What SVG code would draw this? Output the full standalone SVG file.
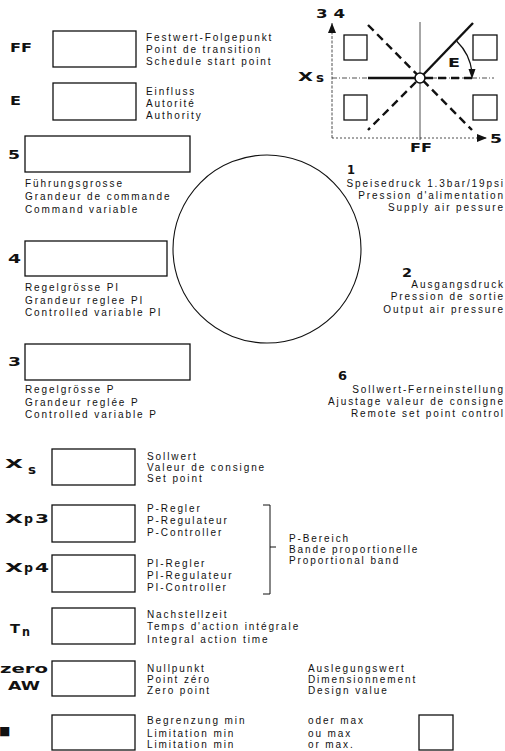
<svg xmlns="http://www.w3.org/2000/svg" width="505" height="751" viewBox="0 0 505 751">
<style>
.t{font-family:"Liberation Sans",Arial,sans-serif;font-size:10px;letter-spacing:1.9px;fill:#111}
.r{text-anchor:end}
.b{font-family:"DejaVu Sans","Liberation Sans",sans-serif;font-weight:bold;font-size:13px;fill:#111}
.box{fill:#fff;stroke:#111;stroke-width:1.3}
.thin{fill:none;stroke:#222;stroke-width:0.8}
.thick{fill:none;stroke:#111;stroke-width:2.4}
.dash{stroke-dasharray:8 5}
</style>
<defs>
<marker id="ah" viewBox="0 0 10 8" refX="10" refY="4" markerWidth="10" markerHeight="8" markerUnits="userSpaceOnUse" orient="auto"><path d="M0,0L10,4L0,8z" fill="#111"/></marker>
</defs>
<rect width="505" height="751" fill="#fff"/>

<g id="graph">
<line class="thin" x1="332" y1="138" x2="332" y2="23" stroke-dasharray="3 1.5" marker-end="url(#ah)"/>
<line class="thin" x1="332" y1="138" x2="487" y2="138" stroke-dasharray="2 2" marker-end="url(#ah)"/>
<line class="thin" x1="420" y1="22" x2="420" y2="140"/>
<line class="thin" x1="332" y1="78" x2="494" y2="78" stroke-dasharray="5 2 1 2"/>
<rect class="box" x="344" y="35" width="23" height="25"/>
<rect class="box" x="473" y="35" width="24" height="25"/>
<rect class="box" x="344" y="95" width="23" height="25"/>
<rect class="box" x="473" y="95" width="24" height="25"/>
<line class="thick" x1="368" y1="78" x2="415" y2="78"/>
<line class="thick dash" x1="425" y1="78" x2="472" y2="78"/>
<line class="thick dash" x1="368" y1="25" x2="472" y2="130"/>
<line class="thick dash" x1="416" y1="82" x2="368" y2="130"/>
<line class="thick" x1="423.5" y1="74.5" x2="473" y2="23"/>
<path d="M456.8,41.2A52,52 0 0 1 472,72" fill="none" stroke="#111" stroke-width="1.3"/>
<path d="M468.5,69L475.5,69L472,79z" fill="#111"/>
<circle cx="420" cy="78" r="5" fill="#fff" stroke="#111" stroke-width="1.6"/>
<text class="b" x="316" y="18" font-size="12" textLength="29" lengthAdjust="spacingAndGlyphs">3 4</text>
<text class="b" x="298" y="81" font-size="13" textLength="15" lengthAdjust="spacingAndGlyphs">X</text>
<text class="b" x="316" y="82" font-size="11" textLength="8" lengthAdjust="spacingAndGlyphs">s</text>
<text class="b" x="448" y="67" font-size="12" textLength="12" lengthAdjust="spacingAndGlyphs">E</text>
<text class="b" x="490" y="143" font-size="12" textLength="12" lengthAdjust="spacingAndGlyphs">5</text>
<text class="b" x="410" y="152" font-size="11" textLength="22" lengthAdjust="spacingAndGlyphs">FF</text>
</g>

<g id="circle"><circle cx="267" cy="249" r="94" fill="none" stroke="#111" stroke-width="1.1"/></g>

<g id="ff">
<text class="b" x="10" y="52" font-size="12" textLength="22" lengthAdjust="spacingAndGlyphs">FF</text>
<rect class="box" x="53" y="31" width="83" height="36"/>
<text class="t" x="146" y="41">Festwert-Folgepunkt</text>
<text class="t" x="146" y="53">Point de transition</text>
<text class="t" x="146" y="65">Schedule start point</text>
</g>
<g id="e">
<text class="b" x="10" y="105" font-size="12" textLength="11" lengthAdjust="spacingAndGlyphs">E</text>
<rect class="box" x="53" y="83" width="83" height="37"/>
<text class="t" x="146" y="95">Einfluss</text>
<text class="t" x="146" y="107">Autorité</text>
<text class="t" x="146" y="119">Authority</text>
</g>
<g id="n5">
<text class="b" x="8" y="159" textLength="12" lengthAdjust="spacingAndGlyphs">5</text>
<rect class="box" x="25" y="136" width="165" height="36"/>
<text class="t" x="25" y="187">Führungsgrosse</text>
<text class="t" x="25" y="200">Grandeur de commande</text>
<text class="t" x="25" y="213">Command variable</text>
</g>
<g id="n4">
<text class="b" x="8" y="263" textLength="13" lengthAdjust="spacingAndGlyphs">4</text>
<rect class="box" x="25" y="241" width="142" height="35"/>
<text class="t" x="25" y="291">Regelgrösse PI</text>
<text class="t" x="25" y="304">Grandeur reglee PI</text>
<text class="t" x="25" y="316">Controlled variable PI</text>
</g>
<g id="n3">
<text class="b" x="8" y="366" textLength="13" lengthAdjust="spacingAndGlyphs">3</text>
<rect class="box" x="25" y="344" width="165" height="36"/>
<text class="t" x="25" y="393">Regelgrösse P</text>
<text class="t" x="25" y="406">Grandeur reglée P</text>
<text class="t" x="25" y="418">Controlled variable P</text>
</g>
<g id="n1">
<text class="b" x="347" y="174" textLength="8" lengthAdjust="spacingAndGlyphs">1</text>
<text class="t r" x="505" y="187">Speisedruck 1.3bar/19psi</text>
<text class="t r" x="505" y="199">Pression d'alimentation</text>
<text class="t r" x="505" y="211">Supply air pessure</text>
</g>
<g id="n2">
<text class="b" x="402" y="277" textLength="10" lengthAdjust="spacingAndGlyphs">2</text>
<text class="t r" x="505" y="288">Ausgangsdruck</text>
<text class="t r" x="505" y="300">Pression de sortie</text>
<text class="t r" x="505" y="313">Output air pressure</text>
</g>
<g id="n6">
<text class="b" x="338" y="380" textLength="9" lengthAdjust="spacingAndGlyphs">6</text>
<text class="t r" x="505" y="393">Sollwert-Ferneinstellung</text>
<text class="t r" x="505" y="405">Ajustage valeur de consigne</text>
<text class="t r" x="505" y="417">Remote set point control</text>
</g>
<g id="xs">
<text class="b" x="5" y="468" font-size="13" textLength="18" lengthAdjust="spacingAndGlyphs">X</text>
<text class="b" x="28" y="474" font-size="11" textLength="8" lengthAdjust="spacingAndGlyphs">s</text>
<rect class="box" x="52" y="449" width="83" height="36"/>
<text class="t" x="147" y="460">Sollwert</text>
<text class="t" x="147" y="471">Valeur de consigne</text>
<text class="t" x="147" y="482">Set point</text>
</g>
<g id="xp3">
<text class="b" x="5" y="523" font-size="13" textLength="18" lengthAdjust="spacingAndGlyphs">X</text>
<text class="b" x="24" y="523" font-size="11" textLength="9" lengthAdjust="spacingAndGlyphs">p</text>
<text class="b" x="35" y="523" font-size="13" textLength="14" lengthAdjust="spacingAndGlyphs">3</text>
<rect class="box" x="52" y="505" width="83" height="37"/>
<text class="t" x="147" y="512">P-Regler</text>
<text class="t" x="147" y="524">P-Regulateur</text>
<text class="t" x="147" y="536">P-Controller</text>
</g>
<g id="xp4">
<text class="b" x="5" y="572" font-size="13" textLength="18" lengthAdjust="spacingAndGlyphs">X</text>
<text class="b" x="24" y="572" font-size="11" textLength="9" lengthAdjust="spacingAndGlyphs">p</text>
<text class="b" x="35" y="572" font-size="13" textLength="14" lengthAdjust="spacingAndGlyphs">4</text>
<rect class="box" x="52" y="555" width="83" height="37"/>
<text class="t" x="147" y="567">PI-Regler</text>
<text class="t" x="147" y="579">PI-Regulateur</text>
<text class="t" x="147" y="591">PI-Controller</text>
</g>
<g id="pband">
<path d="M263,505H270V594H263M270,547H276" fill="none" stroke="#111" stroke-width="1"/>
<text class="t" x="289" y="542">P-Bereich</text>
<text class="t" x="289" y="553">Bande proportionelle</text>
<text class="t" x="289" y="564">Proportional band</text>
</g>
<g id="tn">
<text class="b" x="10" y="633" font-size="12" textLength="10" lengthAdjust="spacingAndGlyphs">T</text>
<text class="b" x="22" y="636" font-size="11" textLength="8" lengthAdjust="spacingAndGlyphs">n</text>
<rect class="box" x="52" y="608" width="83" height="36"/>
<text class="t" x="147" y="618">Nachstellzeit</text>
<text class="t" x="147" y="630">Temps d'action intégrale</text>
<text class="t" x="147" y="643">Integral action time</text>
</g>
<g id="zero">
<text class="b" x="0" y="673" font-size="12.5" textLength="48" lengthAdjust="spacingAndGlyphs">zero</text>
<text class="b" x="8" y="690" font-size="11" textLength="32" lengthAdjust="spacingAndGlyphs">AW</text>
<rect class="box" x="52" y="661" width="83" height="35"/>
<text class="t" x="147" y="672">Nullpunkt</text>
<text class="t" x="147" y="683">Point zéro</text>
<text class="t" x="147" y="694">Zero point</text>
<text class="t" x="308" y="672">Auslegungswert</text>
<text class="t" x="308" y="683">Dimensionnement</text>
<text class="t" x="308" y="694">Design value</text>
</g>
<g id="limit">
<text x="-1" y="735" font-family="DejaVu Sans,sans-serif" font-size="12" fill="#111">■</text>
<rect class="box" x="52" y="715" width="83" height="35"/>
<text class="t" x="147" y="724">Begrenzung min</text>
<text class="t" x="147" y="737">Limitation min</text>
<text class="t" x="147" y="748">Limitation min</text>
<text class="t" x="308" y="724">oder max</text>
<text class="t" x="308" y="737">ou max</text>
<text class="t" x="308" y="748">or max.</text>
<rect class="box" x="419" y="715" width="34" height="35"/>
</g>
</svg>
